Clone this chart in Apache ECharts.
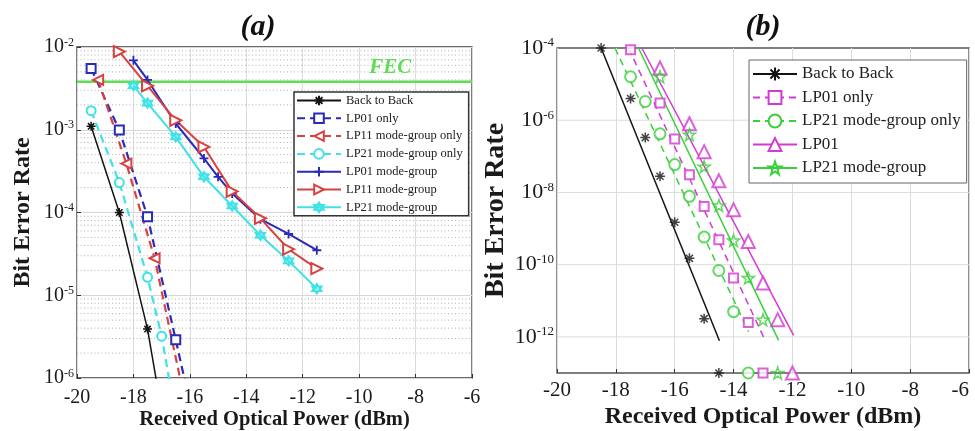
<!DOCTYPE html>
<html><head><meta charset="utf-8">
<script src="https://cdn.jsdelivr.net/npm/echarts@6/dist/echarts.min.js"></script>
<style>html,body{margin:0;padding:0;background:#fff}#c{width:975px;height:431px}</style>
</head><body><div id="c"></div>
<script>
// ---------------- Panel (a) data ----------------
const xRange = [-20, -6];
const a_b2b_x = [-19.5, -18.5, -17.5, -16.5];
const a_b2b_y = [1.1e-3, 1.0e-4, 3.9e-6, 4e-8];
const a_lp01only_x = [-19.5, -18.5, -17.5, -16.5, -15.5];
const a_lp01only_y = [5.5e-3, 9.9e-4, 8.9e-5, 2.9e-6, 8.5e-8];
const a_lp11only_x = [-19.25, -18.25, -17.25, -16.25];
const a_lp11only_y = [4.0e-3, 3.9e-4, 2.8e-5, 7e-7];
const a_lp21only_x = [-19.5, -18.5, -17.5, -17.0, -16.5];
const a_lp21only_y = [1.7e-3, 2.3e-4, 1.65e-5, 3.2e-6, 3.4e-7];
const a_lp01mg_x = [-18, -17.5, -16.5, -15.5, -15, -14.5, -13.5, -12.5, -11.5];
const a_lp01mg_y = [6.9e-3, 4.0e-3, 1.19e-3, 4.5e-4, 2.7e-4, 1.7e-4, 8.3e-5, 5.5e-5, 3.5e-5];
const a_lp11mg_x = [-18.5, -17.5, -16.5, -15.5, -14.5, -13.5, -12.5, -11.5];
const a_lp11mg_y = [8.8e-3, 3.4e-3, 1.3e-3, 6.2e-4, 1.8e-4, 8.5e-5, 3.6e-5, 2.1e-5];
const a_lp21mg_x = [-18, -17.5, -16.5, -15.5, -14.5, -13.5, -12.5, -11.5];
const a_lp21mg_y = [3.4e-3, 2.1e-3, 8.2e-4, 2.7e-4, 1.2e-4, 5.3e-5, 2.6e-5, 1.2e-5];
const fecLevel = 3.8e-3;
const fecLabelAt = [-8.9, 5.6e-3];
const a_yRange = [1e-6, 1e-2];
const a_legend = ['Back to Back', 'LP01 only', 'LP11 mode-group only', 'LP21 mode-group only',
                  'LP01 mode-group', 'LP11 mode-group', 'LP21 mode-group'];

// ---------------- Panel (b) data ----------------
const b_yRange = [1e-13, 1e-4];
const b_b2b_x = [-18.5, -17.5, -17, -16.5, -16, -15.5, -15, -14.5];
const b_b2b_y = [1e-4, 4.0e-6, 3.3e-7, 2.8e-8, 1.5e-9, 1.5e-10, 3.2e-12, 1e-13];
const b_b2b_fit_x = [-18.5, -14.48];
const b_b2b_fit_y = [1e-4, 7.8e-13];
const b_lp01only_x = [-17.5, -16.5, -16, -15.5, -15, -14.5, -14, -13.5, -13];
const b_lp01only_y = [8.9e-5, 3.0e-6, 3.0e-7, 3.1e-8, 4.1e-9, 4.9e-10, 4.3e-11, 2.5e-12, 1e-13];
const b_lp01only_fit_x = [-17.57, -12.96];
const b_lp01only_fit_y = [1e-4, 9.1e-13];
const b_lp21only_x = [-17.5, -17, -16.5, -16, -15.5, -15, -14.5, -14, -13.5];
const b_lp21only_y = [1.6e-5, 3.3e-6, 4.2e-7, 5.9e-8, 7.8e-9, 5.8e-10, 6.9e-11, 5.0e-12, 1e-13];
const b_lp21only_fit_x = [-18.03, -13.49];
const b_lp21only_fit_y = [1e-4, 1.4e-12];
const b_lp01_x = [-16.5, -15.5, -15, -14.5, -14, -13.5, -13, -12.5, -12];
const b_lp01_y = [2.8e-5, 8.0e-7, 1.35e-7, 2.1e-8, 3.3e-9, 4.4e-10, 3.1e-11, 3.0e-12, 1e-13];
const b_lp01_fit_x = [-17.12, -11.96];
const b_lp01_fit_y = [1e-4, 1.1e-12];
const b_lp21mg_x = [-16.5, -15.5, -15, -14.5, -14, -13.5, -13, -12.5];
const b_lp21mg_y = [1.6e-5, 4.0e-7, 5.2e-8, 4.4e-9, 4.7e-10, 4.3e-11, 3.0e-12, 1e-13];
const b_lp21mg_fit_x = [-17.23, -12.47];
const b_lp21mg_fit_y = [1e-4, 8.0e-13];
const b_legend = ['Back to Back', 'LP01 only', 'LP21 mode-group only', 'LP01', 'LP21 mode-group'];

// ---------------- helpers ----------------
const SERIF = '"Liberation Serif","Times New Roman",serif';
const pts = (xs, ys) => xs.map((x, i) => [x, ys[i]]);
const SYM = {
  asterisk: 'path://M5,0L5,10M0,5L10,5M1.46,1.46L8.54,8.54M8.54,1.46L1.46,8.54',
  plus: 'path://M5,0L5,10M0,5L10,5',
  hexagram: 'path://M5,0L9.33,7.5L0.67,7.5ZM5,10L0.67,2.5L9.33,2.5Z',
  pentagram: 'path://M5,0L6.18,3.62L9.76,3.62L6.9,5.86L7.94,9.5L5,7.3L2.06,9.5L3.1,5.86L0.24,3.62L3.82,3.62Z'
};
const COL = {black: '#141414', blue: '#2a2ab8', red: '#d8423e', cyan: '#3fe2e6', fec: '#5fdd55',
             magenta: '#d23ad2', green: '#3bd03b'};

function strokeStyle(c, w, fill) { return {color: fill || 'rgba(0,0,0,0)', borderColor: c, borderWidth: w}; }

function seriesLine(name, idx, data, color, dash, width, symbol, size, itemStyle, extra) {
  return Object.assign({
    type: 'line', name: name, xAxisIndex: idx, yAxisIndex: idx, data: data,
    symbol: symbol, symbolSize: size, showSymbol: true, clip: true, silent: true,
    lineStyle: {color: color, width: width, type: dash ? [8, 5] : 'solid'},
    itemStyle: itemStyle, emphasis: {disabled: true}, z: 3
  }, extra || {});
}

// horizontal reference lines across the full x range (grid lines / FEC level)
function hLines(name, idx, values, lineStyle, z) {
  const data = [];
  values.forEach(v => { data.push([xRange[0], v], [xRange[1], v], ['-', '-']); });
  return {type: 'line', name: name, xAxisIndex: idx, yAxisIndex: idx, data: data, symbol: 'none',
          connectNulls: false, silent: true, clip: true, lineStyle: lineStyle, emphasis: {disabled: true}, z: z};
}

function supLabel(showFn, bigSize, supSize) {
  return {
    formatter: v => {
      const e = Math.round(Math.log10(v));
      return showFn(e) ? '{b|10}{s|' + e + '}' : '';
    },
    margin: 3,
    rich: {
      b: {fontSize: bigSize, fontFamily: SERIF, color: '#1a1a1a'},
      s: {fontSize: supSize, fontFamily: SERIF, color: '#1a1a1a', padding: [0, 0, Math.round(bigSize * 0.45), 0]}
    }
  };
}

// minor grid (a): 2..9 x 10^k
const minorA = [];
for (let k = -6; k < -2; k++) for (let m = 2; m <= 9; m++) minorA.push(m * Math.pow(10, k));
// major y grid for (b): every second decade
const majorB = [];
for (let k = -12; k <= -6; k += 2) majorB.push(Math.pow(10, k));

const series = [
  hLines('_minorA', 0, minorA, {type: [1, 2.5], color: '#b0b0b0', width: 1}, 1),
  hLines('_majorB', 1, majorB, {type: 'solid', color: '#dcdcdc', width: 1}, 1),
  Object.assign(hLines('_fec', 0, [fecLevel], {type: 'solid', color: COL.fec, width: 2.5}, 2), {
    markPoint: {silent: true, symbol: 'circle', symbolSize: 1, itemStyle: {color: 'rgba(0,0,0,0)'}, animation: false,
      label: {show: true, position: 'inside', formatter: 'FEC', color: COL.fec, fontSize: 21,
              fontWeight: 'bold', fontStyle: 'italic', fontFamily: SERIF},
      data: [{coord: fecLabelAt}]}
  }),
  // ----- (a)
  seriesLine('Back to Back', 0, pts(a_b2b_x, a_b2b_y), COL.black, false, 1.5, SYM.asterisk, 9,
    strokeStyle(COL.black, 1.5)),
  seriesLine('LP01 only', 0, pts(a_lp01only_x, a_lp01only_y), COL.blue, true, 2.2, 'emptyRect', 9,
    {color: COL.blue, borderWidth: 1.5}),
  seriesLine('LP11 mode-group only', 0, pts(a_lp11only_x, a_lp11only_y), COL.red, true, 2.2, 'emptyTriangle', 10,
    {color: COL.red, borderWidth: 1.5}, {symbolRotate: 90}),
  seriesLine('LP21 mode-group only', 0, pts(a_lp21only_x, a_lp21only_y), COL.cyan, true, 2.2, 'emptyCircle', 9,
    {color: COL.cyan, borderWidth: 1.5}),
  seriesLine('LP01 mode-group', 0, pts(a_lp01mg_x, a_lp01mg_y), COL.blue, false, 2, SYM.plus, 9,
    strokeStyle(COL.blue, 1.8)),
  seriesLine('LP11 mode-group', 0, pts(a_lp11mg_x, a_lp11mg_y), COL.red, false, 2, 'emptyTriangle', 11,
    {color: COL.red, borderWidth: 1.5}, {symbolRotate: -90}),
  seriesLine('LP21 mode-group', 0, pts(a_lp21mg_x, a_lp21mg_y), COL.cyan, false, 2, SYM.hexagram, 10,
    strokeStyle(COL.cyan, 1.6, 'rgba(63,226,230,0.45)')),
];

// ----- (b): fitted lines first (legend icon), then measured markers
const bDefs = [
  ['Back to Back', b_b2b_fit_x, b_b2b_fit_y, b_b2b_x, b_b2b_y, COL.black, false, SYM.asterisk, 10, strokeStyle(COL.black, 1.5)],
  ['LP01 only', b_lp01only_fit_x, b_lp01only_fit_y, b_lp01only_x, b_lp01only_y, COL.magenta, true, 'emptyRect', 9, {color: COL.magenta, borderWidth: 1.3}],
  ['LP21 mode-group only', b_lp21only_fit_x, b_lp21only_fit_y, b_lp21only_x, b_lp21only_y, COL.green, true, 'emptyCircle', 11, {color: COL.green, borderWidth: 1.3}],
  ['LP01', b_lp01_fit_x, b_lp01_fit_y, b_lp01_x, b_lp01_y, COL.magenta, false, 'emptyTriangle', 13, {color: COL.magenta, borderWidth: 1.3}],
  ['LP21 mode-group', b_lp21mg_fit_x, b_lp21mg_fit_y, b_lp21mg_x, b_lp21mg_y, COL.green, false, SYM.pentagram, 12, strokeStyle(COL.green, 1.5)]
];
bDefs.forEach(d => {
  const s = seriesLine('b·' + d[0], 1, pts(d[1], d[2]), d[5], d[6], 1.5, d[7], d[8], d[9], {showSymbol: false});
  s.lineStyle.type = d[6] ? [7, 5] : 'solid';
  series.push(s);
});
bDefs.forEach(d => {
  series.push({type: 'scatter', name: 'b·' + d[0], xAxisIndex: 1, yAxisIndex: 1, data: pts(d[3], d[4]),
    symbol: d[7], symbolSize: d[8], itemStyle: d[9], clip: false, silent: true, z: 4,
    emphasis: {disabled: true}});
});

const xAxisCommon = (idx, fs, margin, nameFs, nameGap, alignMax) => ({
  type: 'value', gridIndex: idx, min: xRange[0], max: xRange[1], interval: 2,
  axisLine: {show: false},
  axisTick: {show: true, inside: true, length: 4, lineStyle: {color: '#333'}},
  splitLine: {show: true, lineStyle: {color: '#dcdcdc', width: 1}},
  axisLabel: {fontSize: fs, fontFamily: SERIF, color: '#1a1a1a', margin: margin, alignMaxLabel: alignMax},
  name: 'Received Optical Power (dBm)', nameLocation: 'middle', nameGap: nameGap, nameMoveOverlap: false,
  nameTextStyle: {fontSize: nameFs, fontWeight: 'bold', fontFamily: SERIF, color: '#1a1a1a'}
});

const option = {
  animation: false,
  backgroundColor: '#fff',
  title: [
    {text: '(a)', left: 258, top: 12, textAlign: 'center', padding: 0,
     textStyle: {fontSize: 30, fontWeight: 'bold', fontStyle: 'italic', fontFamily: SERIF, color: '#111'}},
    {text: '(b)', left: 763, top: 12, textAlign: 'center', padding: 0,
     textStyle: {fontSize: 30, fontWeight: 'bold', fontStyle: 'italic', fontFamily: SERIF, color: '#111'}}
  ],
  grid: [
    {left: 77, top: 47, width: 395, height: 331, show: true, borderColor: '#3a3a3a', borderWidth: 1.3,
     backgroundColor: '#fff', containLabel: false, outerBoundsMode: 'none'},
    {left: 557, top: 48, width: 412, height: 325, show: true, borderColor: '#555', borderWidth: 1.3,
     backgroundColor: '#fff', containLabel: false, outerBoundsMode: 'none'}
  ],
  xAxis: [xAxisCommon(0, 20, 10, 20.5, 31, null), xAxisCommon(1, 21, 7, 24, 32, 'right')],
  yAxis: [
    {type: 'log', logBase: 10, gridIndex: 0, min: a_yRange[0], max: a_yRange[1],
     axisLine: {show: false}, axisTick: {show: true, inside: true, length: 4, lineStyle: {color: '#333'}},
     splitLine: {show: true, lineStyle: {color: '#d6d6d6', width: 1}},
     axisLabel: supLabel(() => true, 20, 12),
     name: 'Bit Error Rate', nameLocation: 'middle', nameGap: 42,
     nameTextStyle: {fontSize: 24, fontWeight: 'bold', fontFamily: SERIF, color: '#1a1a1a'}},
    {type: 'log', logBase: 10, gridIndex: 1, min: b_yRange[0], max: b_yRange[1],
     axisLine: {show: false}, axisTick: {show: false},
     splitLine: {show: false},
     axisLabel: supLabel(e => e % 2 === 0, 22, 13),
     name: 'Bit Error Rate', nameLocation: 'middle', nameGap: 47,
     nameTextStyle: {fontSize: 28, fontWeight: 'bold', fontFamily: SERIF, color: '#1a1a1a'}}
  ],
  legend: [
    {data: a_legend, left: 294, top: 92, orient: 'vertical', backgroundColor: '#fff',
     borderColor: '#333', borderWidth: 1.5, padding: [2, 6, 2, 2], itemWidth: 44, itemHeight: 12, itemGap: 4.8,
     selectedMode: false, textStyle: {fontFamily: SERIF, fontSize: 12.5, color: '#222', lineHeight: 12}},
    {data: b_legend.map(n => 'b·' + n), formatter: n => n.replace('b·', ''),
     left: 749, top: 60, orient: 'vertical', backgroundColor: '#fff',
     borderColor: '#666', borderWidth: 1, padding: [5, 6, 6, 3], itemWidth: 44, itemHeight: 16, itemGap: 5.5,
     selectedMode: false, textStyle: {fontFamily: SERIF, fontSize: 17, color: '#222', lineHeight: 18}}
  ],
  series: series
};
const chart = echarts.init(document.getElementById('c'), null, {renderer: 'canvas'});
chart.setOption(option);
</script></body></html>
